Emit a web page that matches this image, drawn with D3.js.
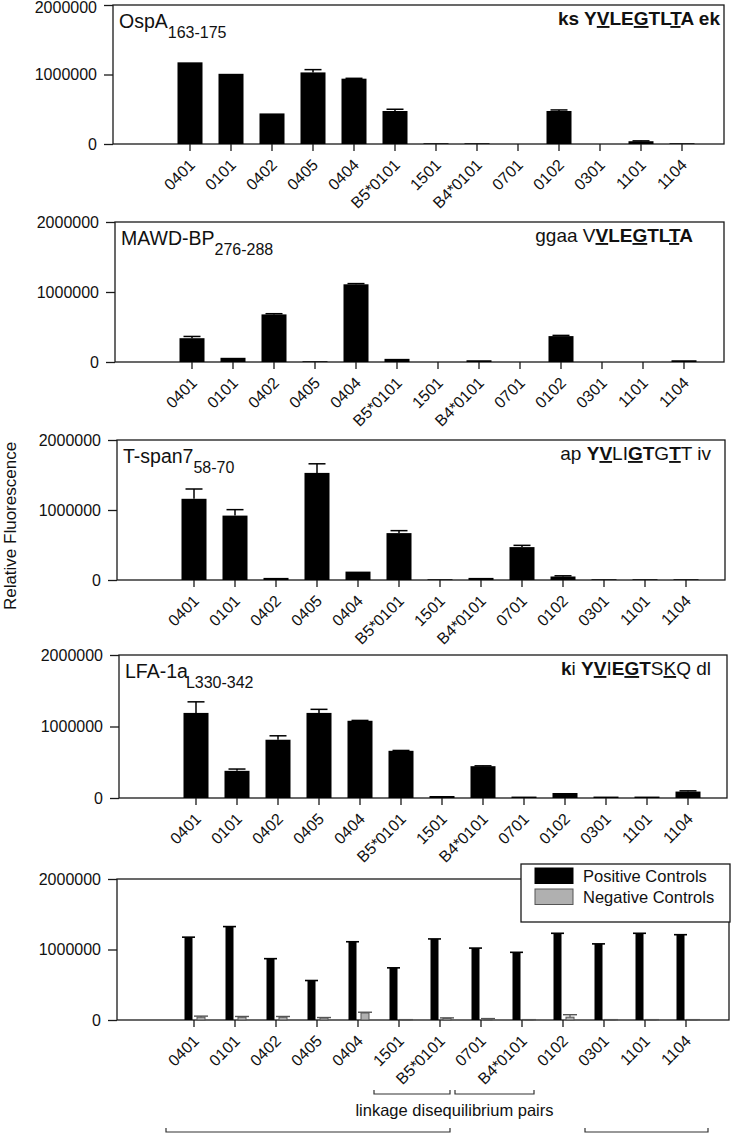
<!DOCTYPE html>
<html><head><meta charset="utf-8">
<script src="https://cdn.jsdelivr.net/npm/d3@7"></script>
<style>body{margin:0;background:#fff}text{font-family:"Liberation Sans",Arial,sans-serif}</style>
</head><body>
<svg id="c" width="732" height="1135"></svg>
<script>
// ---------- data ----------
const categories = ["0401","0101","0402","0405","0404","B5*0101","1501","B4*0101","0701","0102","0301","1101","1104"];
const controlCategories = ["0401","0101","0402","0405","0404","1501","B5*0101","0701","B4*0101","0102","0301","1101","1104"];
const yTicks = [0, 1000000, 2000000];

const ospaValues   = [1175000,1010000,440000,1030000,940000,475000,10000,10000,0,475000,0,40000,10000];
const ospaErrors   = [0,0,0,40000,5000,25000,0,0,0,15000,0,5000,0];
const mawdValues   = [340000,60000,680000,10000,1110000,45000,0,25000,0,370000,0,0,25000];
const mawdErrors   = [25000,0,10000,0,10000,0,0,0,0,10000,0,0,0];
const tspanValues  = [1160000,920000,30000,1530000,120000,670000,10000,30000,470000,50000,10000,10000,10000];
const tspanErrors  = [140000,85000,0,130000,0,35000,0,0,25000,10000,0,0,0];
const lfaValues    = [1190000,380000,815000,1190000,1080000,660000,28000,445000,20000,70000,20000,20000,90000];
const lfaErrors    = [155000,25000,55000,50000,5000,5000,0,5000,0,0,0,0,10000];

const positiveControls = [1175000,1325000,870000,560000,1110000,740000,1150000,1020000,960000,1230000,1080000,1230000,1210000];
const negativeControls = [40000,40000,40000,30000,100000,5000,25000,15000,5000,40000,5000,5000,5000];
const negativeErrors   = [15000,10000,10000,5000,10000,0,5000,5000,0,35000,0,0,0];
const seriesNames = ["Positive Controls","Negative Controls"];

const panelTitles = ["OspA","MAWD-BP","T-span7","LFA-1a"];
const panelSubscripts = ["163-175","276-288","58-70","L330-342"];
// [text, bold, underline]
const seqOspA  = [["ks Y",1,0],["V",1,1],["LE",1,0],["G",1,1],["TL",1,0],["T",1,1],["A ek",1,0]];
const seqMawd  = [["ggaa V",0,0],["V",1,1],["LE",1,0],["G",1,1],["TL",1,0],["T",1,1],["A",1,0]];
const seqTspan = [["ap ",0,0],["Y",1,0],["V",1,1],["LI",0,0],["G",1,1],["T",1,0],["G",0,0],["T",1,1],["T iv",0,0]];
const seqLfa   = [["k",1,0],["i ",0,0],["Y",1,0],["V",1,1],["I",0,0],["E",1,0],["G",1,1],["T",1,0],["S",0,0],["K",0,1],["Q dl",0,0]];
const yAxisTitle = "Relative Fluorescence";
const bracketNote = "linkage disequilibrium pairs";

// ---------- layout ----------
const svg = d3.select("#c");
const lefts  = [113,115,117,119,117];
const tops   = [5,222,440,655,879];
const bots   = [144,362,580,798,1020];
const rights = [724,724,725,727,729];
const seqEnds = [720,693,711,711];
const STROKE = "#1a1a1a";

function makeX(i, cats){
  const a = lefts[i] + 77 - 20.5;
  return d3.scaleBand().domain(cats).range([a, a + cats.length*41]).paddingInner(0.39).paddingOuter(0.195);
}

function drawFrame(i, cats){
  const g = svg.append("g");
  const y = d3.scaleLinear().domain([0,2000000]).range([bots[i], tops[i]]);
  const x = makeX(i, cats);
  const ya = g.append("g").attr("transform",`translate(${lefts[i]},0)`)
    .call(d3.axisLeft(y).tickValues(yTicks).tickSize(9).tickSizeOuter(0).tickFormat(d3.format("d")));
  ya.select(".domain").remove();
  ya.selectAll("line").attr("stroke",STROKE).attr("stroke-width",1.3);
  ya.selectAll("text").attr("font-size",16).attr("fill","#111").attr("x",-16)
    .style("font-family",'"Liberation Sans",Arial,sans-serif')
    .attr("y",d=>(i===0 && d===2000000)?2:0);
  g.append("rect").attr("x",lefts[i]).attr("y",tops[i]).attr("width",rights[i]-lefts[i]).attr("height",bots[i]-tops[i])
    .attr("fill","none").attr("stroke",STROKE).attr("stroke-width",1.3);
  const xa = g.append("g").attr("transform",`translate(0,${bots[i]})`)
    .call(d3.axisBottom(x).tickSize(7).tickSizeOuter(0));
  xa.select(".domain").remove();
  xa.selectAll("line").attr("stroke",STROKE).attr("stroke-width",1.3);
  xa.selectAll("text").attr("font-size",16).attr("fill","#111")
    .style("font-family",'"Liberation Sans",Arial,sans-serif')
    .attr("text-anchor","end").attr("dy",null).attr("y",0)
    .attr("transform","translate(6,22) rotate(-45)");
  return {g,x,y};
}

function drawTitle(i){
  const t = svg.append("text").attr("x",lefts[i]+6).attr("y",tops[i]+23).attr("fill","#111");
  t.append("tspan").attr("font-size",19.5).text(panelTitles[i]);
  t.append("tspan").attr("font-size",16).attr("dy",9.5).attr("dx",i===3?-2:0).text(panelSubscripts[i]);
}

function drawSeq(i, seq){
  const t = svg.append("text").attr("x",seqEnds[i]).attr("y",tops[i]+20).attr("text-anchor","end")
    .attr("font-size",19).attr("fill","#111").attr("xml:space","preserve");
  seq.forEach(s=>{
    t.append("tspan").attr("font-weight",s[1]?"bold":"normal")
      .style("text-decoration",s[2]?"underline":"none")
      .style("white-space","pre").text(s[0]);
  });
}

const panels = [[ospaValues,ospaErrors,seqOspA],[mawdValues,mawdErrors,seqMawd],[tspanValues,tspanErrors,seqTspan],[lfaValues,lfaErrors,seqLfa]];
panels.forEach((p,i)=>{
  const {g,x,y} = drawFrame(i, categories);
  const data = categories.map((c,k)=>({c, v:p[0][k], e:p[1][k]}));
  const bw = x.bandwidth();
  g.selectAll(".bar").data(data).join("rect")
    .attr("x",d=>x(d.c)).attr("width",bw)
    .attr("y",d=>y(d.v)).attr("height",d=>Math.max(0,y(0)-y(d.v)))
    .attr("fill","#000");
  const eb = data.filter(d=>d.e>0);
  g.selectAll(".stem").data(eb).join("line")
    .attr("x1",d=>x(d.c)+bw/2).attr("x2",d=>x(d.c)+bw/2)
    .attr("y1",d=>y(d.v)).attr("y2",d=>y(d.v+d.e)).attr("stroke","#000").attr("stroke-width",1.5);
  g.selectAll(".cap").data(eb).join("line")
    .attr("x1",d=>x(d.c)+bw/2-8.5).attr("x2",d=>x(d.c)+bw/2+8.5)
    .attr("y1",d=>y(d.v+d.e)).attr("y2",d=>y(d.v+d.e)).attr("stroke","#000").attr("stroke-width",1.5);
  drawTitle(i);
  drawSeq(i, p[2]);
});

// ---------- controls panel ----------
{
  const {g,x,y} = drawFrame(4, controlCategories);
  const sub = d3.scaleBand().domain(seriesNames).range([-9.5,11]).paddingInner(0.36);
  const center = c => x(c) + x.bandwidth()/2;
  const pos = controlCategories.map((c,k)=>({c,v:positiveControls[k],e:0}));
  const neg = controlCategories.map((c,k)=>({c,v:negativeControls[k],e:negativeErrors[k]}));
  const sw = sub.bandwidth();
  g.selectAll(".pb").data(pos).join("rect")
    .attr("x",d=>center(d.c)+sub(seriesNames[0])).attr("width",sw)
    .attr("y",d=>y(d.v)).attr("height",d=>y(0)-y(d.v)).attr("fill","#000");
  g.selectAll(".pc").data(pos).join("line")
    .attr("x1",d=>center(d.c)+sub(seriesNames[0])+sw/2-6.5).attr("x2",d=>center(d.c)+sub(seriesNames[0])+sw/2+6.5)
    .attr("y1",d=>y(d.v+d.e)).attr("y2",d=>y(d.v+d.e)).attr("stroke","#000").attr("stroke-width",1.6);
  g.selectAll(".nb").data(neg).join("rect")
    .attr("x",d=>center(d.c)+sub(seriesNames[1])).attr("width",sw)
    .attr("y",d=>y(d.v)).attr("height",d=>y(0)-y(d.v)).attr("fill","#b0b0b0").attr("stroke","#555").attr("stroke-width",1);
  g.selectAll(".nst").data(neg).join("line")
    .attr("x1",d=>center(d.c)+sub(seriesNames[1])+sw/2).attr("x2",d=>center(d.c)+sub(seriesNames[1])+sw/2)
    .attr("y1",d=>y(d.v)).attr("y2",d=>y(d.v+d.e)).attr("stroke","#555").attr("stroke-width",1.2);
  g.selectAll(".nc").data(neg).join("line")
    .attr("x1",d=>center(d.c)+sub(seriesNames[1])+sw/2-7).attr("x2",d=>center(d.c)+sub(seriesNames[1])+sw/2+7)
    .attr("y1",d=>y(d.v+d.e)).attr("y2",d=>y(d.v+d.e)).attr("stroke","#555").attr("stroke-width",1.4);

  const lg = svg.append("g");
  lg.append("rect").attr("x",521).attr("y",864).attr("width",209).attr("height",58)
    .attr("fill","#fff").attr("stroke",STROKE).attr("stroke-width",1.3);
  const sy = [868,889];
  seriesNames.forEach((s,k)=>{
    lg.append("rect").attr("x",535).attr("y",sy[k]).attr("width",38).attr("height",15.5)
      .attr("fill",k?"#b0b0b0":"#000").attr("stroke",k?"#555":"#000").attr("stroke-width",1);
    lg.append("text").attr("x",583).attr("y",sy[k]+14).attr("font-size",16.5).attr("fill","#111").text(s);
  });

  const br = svg.append("g").attr("stroke","#333").attr("stroke-width",1.2).attr("fill","none");
  const brackets = [[374,450,1094],[455,534,1094],[166,450,1132],[585,708,1132]];
  brackets.forEach(b=>{
    br.append("path").attr("d",`M${b[0]},${b[2]-4}V${b[2]}H${b[1]}V${b[2]-4}`);
  });
  svg.append("text").attr("x",454.5).attr("y",1116).attr("text-anchor","middle")
    .attr("font-size",16.5).attr("fill","#111").text(bracketNote);
}

svg.append("text").attr("transform","translate(16,526) rotate(-90)").attr("text-anchor","middle")
  .attr("font-size",17).attr("fill","#111").text(yAxisTitle);
</script>
</body></html>
